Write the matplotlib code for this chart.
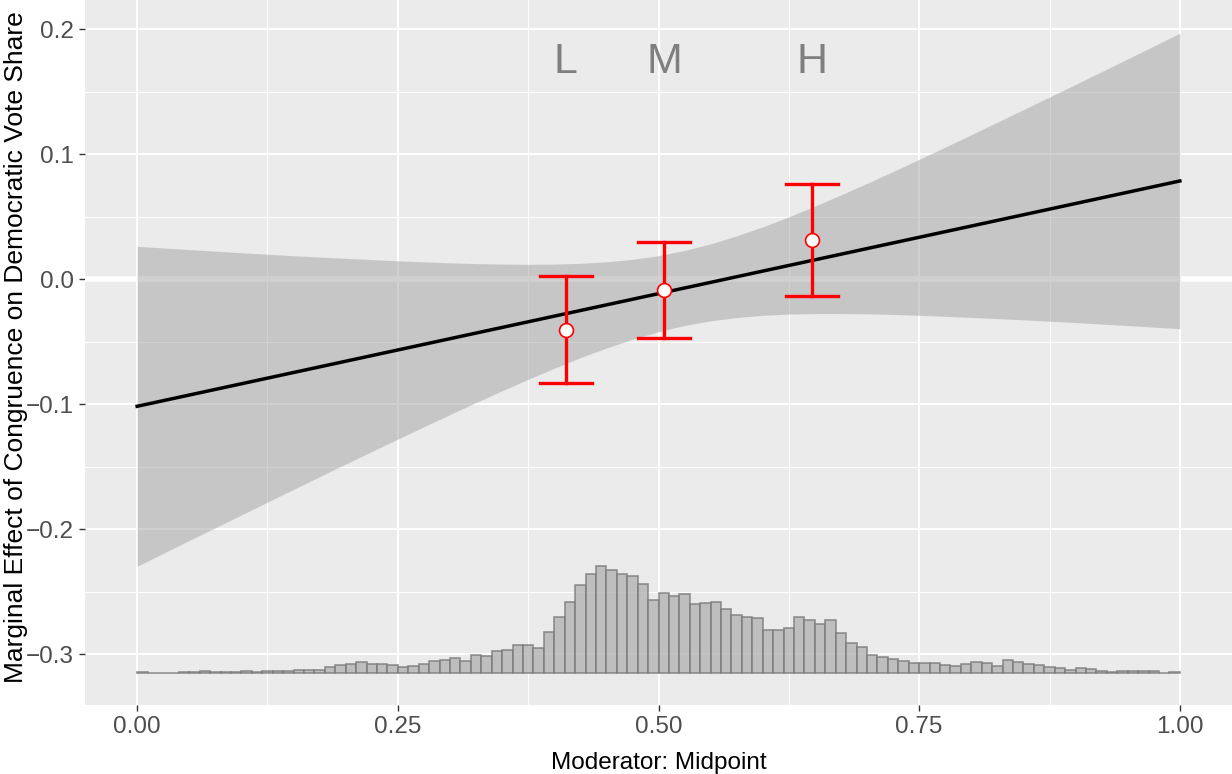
import matplotlib
matplotlib.use("Agg")
import matplotlib.pyplot as plt
import numpy as np

# --- Data ---
# linear marginal effect (end points)
line_x = [0.0, 1.0]
line_y = [-0.1015, 0.0788]

# confidence band
band_x = [0.00, 0.05, 0.10, 0.15, 0.20, 0.25, 0.30, 0.325, 0.35, 0.375, 0.40, 0.425, 0.45, 0.475, 0.50,
          0.525, 0.55, 0.575, 0.60, 0.625, 0.65, 0.675, 0.70, 0.725, 0.75, 0.775, 0.80, 0.85, 0.90, 0.95, 1.00]
band_hi = [0.0265, 0.0239, 0.0214, 0.0190, 0.0169, 0.0149, 0.0133, 0.0127, 0.0123, 0.0121, 0.0123, 0.0129,
           0.0141, 0.0161, 0.0190, 0.0232, 0.0285, 0.0349, 0.0421, 0.0501, 0.0587, 0.0677, 0.0769, 0.0864,
           0.0961, 0.1059, 0.1158, 0.1359, 0.1561, 0.1765, 0.1970]
band_lo = [-0.2295, -0.2089, -0.1884, -0.1680, -0.1477, -0.1277, -0.1081, -0.0985, -0.0891, -0.0799, -0.0711,
           -0.0626, -0.0549, -0.0479, -0.0418, -0.0368, -0.0331, -0.0305, -0.0287, -0.0277, -0.0273, -0.0273,
           -0.0275, -0.0280, -0.0287, -0.0295, -0.0304, -0.0323, -0.0345, -0.0369, -0.0394]

# binned estimates (L, M, H)
bin_labels = ["L", "M", "H"]
bin_x = [0.411, 0.5056, 0.6472]
bin_est = [-0.0401, -0.0084, 0.0316]
bin_hi = [0.0028, 0.0303, 0.0767]
bin_lo = [-0.0830, -0.0470, -0.0135]

# histogram of the moderator (bin width 0.01, heights in 1/1000 of y units)
hist_left = np.arange(100) / 100
hist_h = [0.8, 0.2, 0.2, 0.2, 0.8, 0.8, 1.4, 0.8, 1.0, 0.8,
          1.6, 1.0, 1.6, 1.6, 1.8, 2.4, 2.4, 2.2, 5.0, 6.2,
          7.0, 8.6, 7.2, 7.0, 6.6, 5.2, 5.6, 7.4, 9.4, 10.2,
          12.0, 9.4, 14.6, 14.0, 17.4, 18.2, 22.2, 22.4, 20.4, 32.6,
          45.2, 56.6, 70.2, 79.0, 85.4, 82.2, 79.0, 77.4, 71.4, 58.2,
          63.7, 61.7, 63.6, 55.2, 56.0, 56.8, 51.4, 46.2, 44.8, 44.2,
          34.6, 34.2, 36.4, 45.0, 42.8, 39.4, 42.7, 31.8, 23.8, 20.8,
          14.6, 13.0, 11.0, 9.8, 8.2, 8.4, 7.8, 6.4, 5.4, 7.2,
          8.6, 8.2, 5.8, 10.6, 9.0, 7.0, 6.4, 4.6, 4.2, 2.8,
          3.8, 3.0, 1.8, 1.0, 1.4, 1.6, 1.6, 1.4, 0.4, 0.6]
hist_base = -0.3149

plt.rcParams['font.family'] = ['Liberation Sans', 'DejaVu Sans']

fig = plt.figure(figsize=(12.32, 7.74), dpi=100)
ax = fig.add_axes([85 / 1232, 69 / 774, 1147 / 1232, 705 / 774])
ax.set_facecolor('#ebebeb')
for s in ax.spines.values():
    s.set_visible(False)

# grid
ax.set_xticks([0.0, 0.25, 0.5, 0.75, 1.0])
ax.set_xticklabels(["0.00", "0.25", "0.50", "0.75", "1.00"])
ax.set_yticks([-0.3, -0.2, -0.1, 0.0, 0.1, 0.2])
ax.set_yticklabels(["\u22120.3", "\u22120.2", "\u22120.1", "0.0", "0.1", "0.2"])
ax.set_xticks([0.125, 0.375, 0.625, 0.875], minor=True)
ax.set_yticks([-0.25, -0.15, -0.05, 0.05, 0.15], minor=True)
ax.grid(True, which='major', color='white', lw=1.4, zorder=0)
ax.grid(True, which='minor', color='white', lw=0.7, zorder=0)
ax.set_axisbelow(True)
ax.tick_params(which='major', length=4, width=1, color='#333333',
               labelsize=17.5, labelcolor='#4d4d4d', pad=4)
ax.tick_params(which='minor', length=0)

# white zero line
ax.axhline(0, color='white', lw=4, zorder=1)

# confidence band + line
ax.fill_between(band_x, band_lo, band_hi, color='#a3a3a3', alpha=0.5, lw=0, zorder=2)
ax.plot(line_x, line_y, color='black', lw=2.5, zorder=3)

# histogram
ax.bar(hist_left, np.array(hist_h) / 1000, width=0.01, bottom=hist_base, align='edge',
       color='#b3b3b3', alpha=0.8, edgecolor='#7a7a7a', lw=1.2, zorder=2)

# binned estimates
for x, est, lo, hi in zip(bin_x, bin_est, bin_lo, bin_hi):
    ax.plot([x, x], [lo, hi], color='red', lw=2.4, zorder=4)
    ax.plot([x - 0.025, x + 0.025], [hi, hi], color='red', lw=2.4, zorder=4)
    ax.plot([x - 0.025, x + 0.025], [lo, lo], color='red', lw=2.4, zorder=4)
    ax.plot(x, est, 'o', ms=10, mfc='white', mec='red', mew=1.2, zorder=5)
for lab, x in zip(bin_labels, bin_x):
    ax.text(x, 0.174, lab, fontsize=31, color='#7f7f7f', ha='center', va='center')

ax.set_xlim(-0.05, 1.05)
ax.set_ylim(-0.3405, 0.2236)
ax.set_xlabel("Moderator: Midpoint", fontsize=17.5, labelpad=10)
ax.set_ylabel("Marginal Effect of Congruence on Democratic Vote Share", fontsize=19)
ax.yaxis.set_label_coords(-0.0497, 0.507)

fig.savefig("out.png", dpi=100)
